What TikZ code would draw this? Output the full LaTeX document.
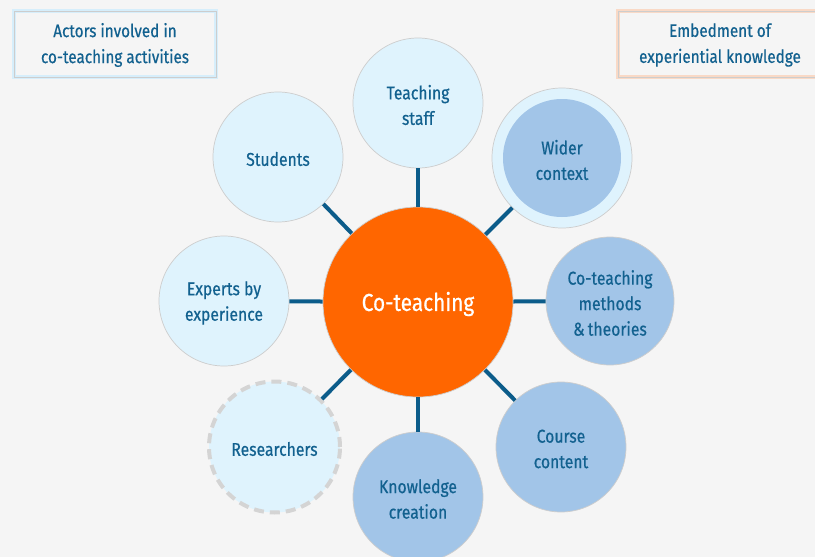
\documentclass[tikz,border=0pt]{standalone}
\usepackage{fontspec}
\setmainfont{Fira Sans}[FakeStretch=0.85,FakeBold=0.6]
\definecolor{bgc}{HTML}{F5F5F5}
\definecolor{txtc}{HTML}{12618F}
\definecolor{linec}{HTML}{0C5C8A}
\definecolor{lightc}{HTML}{DFF3FD}
\definecolor{darkc}{HTML}{A2C5E8}
\definecolor{orangec}{HTML}{FF6600}
\definecolor{rimc}{HTML}{CDCDCD}
\definecolor{peachc}{HTML}{F9D9C6}
\definecolor{legblue}{HTML}{D6EEFB}
\begin{document}
\begin{tikzpicture}[x=1pt,y=-1pt,
  lbl/.style={align=center,text=txtc,font=\fontsize{18.5}{25.5}\selectfont,yshift=-2pt,inner sep=0pt},
  sat/.style={circle,draw=rimc,line width=0.7pt,minimum size=130pt,inner sep=0pt},
  lightsat/.style={sat,fill=lightc},
  darksat/.style={sat,fill=darkc},
  conn/.style={draw=linec,line width=4pt},
  legbox/.style={rectangle,line width=4pt,fill=bgc,minimum width=202pt,minimum height=66pt,
    inner sep=0pt},
  leglbl/.style={align=center,text=txtc,font=\fontsize{18}{26}\selectfont,yshift=-1pt,inner sep=0pt}]
\fill[bgc] (0,0) rectangle (815,557);
\clip (0,0) rectangle (815,557);
% centre
\node[circle,fill=orangec,draw=rimc,line width=0.7pt,minimum size=190pt,inner sep=0pt,
  label={[lbl,text=white,font=\fontsize{24.5}{30}\selectfont]center:Co-teaching}] (ct) at (418,302) {};
% satellites
\node[lightsat,label={[lbl]center:{Teaching\\staff}}] (ts) at (418,103) {};
\node[lightsat,label={[lbl]center:Students}] (st) at (278,157) {};
\node[lightsat,label={[lbl]center:{Experts by\\experience}}] (ex) at (224,301) {};
\node[lightsat,draw=rimc!85,dash pattern=on 10pt off 6pt,line width=4pt,minimum size=131pt,
  label={[lbl]center:Researchers}] (rs) at (274.5,447) {};
\node[darksat,label={[lbl]center:{Knowledge\\creation}}] (kc) at (418,497) {};
\node[darksat,label={[lbl]center:{Course\\content}}] (cc) at (561,447) {};
\node[darksat,minimum size=128pt,label={[lbl]center:{Co-teaching\\methods\\\&\,theories}}] (mt) at (610,301) {};
\node[circle,fill=lightc,draw=rimc,line width=0.7pt,minimum size=140pt,inner sep=0pt] (wc) at (562,158) {};
\node[darksat,draw=none,minimum size=118pt,label={[lbl]center:{Wider\\context}}] (wci) at (wc.center) {};
% connectors
\foreach \s in {ts,st,ex,rs,kc,cc,mt,wc}
  \draw[conn] (ct) -- (\s);
% legends
\node[legbox,draw=legblue,label={[leglbl]center:{Actors involved in\\co-teaching activities}}] (la) at (115,44) {};
\draw[rimc,line width=0.7pt] ([xshift=2pt,yshift=-2pt]la.north west) rectangle ([xshift=-2pt,yshift=2pt]la.south east);
\node[legbox,draw=peachc,minimum width=204pt,label={[leglbl]center:{Embedment of\\experiential knowledge}}] (lb) at (720,44) {};
\draw[rimc,line width=0.7pt] ([xshift=2pt,yshift=-2pt]lb.north west) rectangle ([xshift=-2pt,yshift=2pt]lb.south east);
\end{tikzpicture}
\end{document}
